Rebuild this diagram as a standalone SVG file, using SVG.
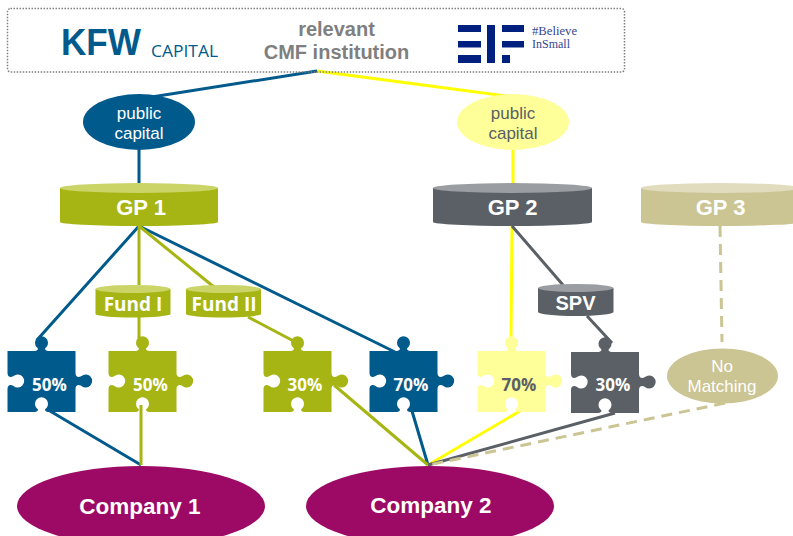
<svg xmlns="http://www.w3.org/2000/svg" width="793" height="536" viewBox="0 0 793 536">
<style>
.c{fill:none;stroke-width:3}
.blue{stroke:#005a8c}.olive{stroke:#a6b513}.yel{stroke:#ffff00}.grey{stroke:#5a6065}.dash{stroke:#cbc493;stroke-dasharray:11 7}
text{text-anchor:middle;font-family:"Liberation Sans",Arial,sans-serif}
.t{fill:#fff;font-weight:bold;font-size:22px}
.f{fill:#fff;font-weight:bold;font-size:19px;font-family:"Open Sans",sans-serif}
.p{fill:#fff;font-weight:bold;font-size:17px;font-family:"Open Sans",sans-serif}
.s{font-size:17px;fill:#fff}
.e{font-family:"Liberation Serif",serif;font-size:11.500px;fill:#33478f;text-anchor:start}
</style>
<defs>
<path id="piece" d="M0 0H26C30 0 32-2 29-4A6.500 6.500 0 1 1 39-4C36-2 38 0 42 0H68V22C68 26 71 27 74 25A6.500 6.500 0 1 1 74 35C71 33 68 34 68 38V61H42C38 61 36 59 39 57A6.500 6.500 0 1 0 29 57C32 59 30 61 26 61H0V38C0 34 3 33 6 35A6.500 6.500 0 1 0 6 25C3 27 0 26 0 22Z"/>
</defs>
<g id="connectors">
<path class="c blue" d="M317 71L139 99M139 145V186M139 226L37 340M139 226L395 352M50 411L141 465M412 411L428 465"/>
<path class="c yel" d="M317 71L513 97M513 145V186M512 226L511 340M520 411L428 465"/>
<path class="c olive" d="M139 226V285M139 226L214 287M139 317V340M141 405V465M248 317L303 346M334 385L428 465"/>
<path class="c grey" d="M512 226L563 285M587 316L612 343M615 413L428 465"/>
<path class="c dash" d="M720 226L722 342M725 403L428 465"/>
</g>
<g id="header">
<rect x="7.500" y="8.500" width="617" height="63.500" rx="3" fill="none" stroke="#7f7f7f" stroke-width="1.500" stroke-dasharray="1.500 1.500"/>
<text x="101" y="55" font-size="36" font-weight="bold" fill="#005a8c" textLength="80" lengthAdjust="spacingAndGlyphs">KFW</text>
<text x="184.500" y="57" font-size="17" fill="#005a8c" style="font-family:'Open Sans',sans-serif" textLength="67" lengthAdjust="spacingAndGlyphs">CAPITAL</text>
<text x="336.500" y="36" font-size="20" font-weight="bold" fill="#7f7f7f">relevant</text>
<text x="336.500" y="59" font-size="20" font-weight="bold" fill="#7f7f7f">CMF institution</text>
<g fill="#00207f">
<rect x="458" y="25" width="23" height="7"/><rect x="458" y="41" width="23" height="6.500"/><rect x="458" y="55" width="23" height="8"/>
<rect x="487" y="25" width="8" height="38"/>
<rect x="502" y="25" width="22" height="7"/><rect x="502" y="41" width="22" height="6.500"/><rect x="502" y="55" width="8" height="8"/>
</g>
<text class="e" x="532" y="35" textLength="45" lengthAdjust="spacingAndGlyphs">#Believe</text>
<text class="e" x="532" y="48" textLength="38" lengthAdjust="spacingAndGlyphs">InSmall</text>
</g>
<g id="public1"><ellipse cx="139" cy="122" rx="56" ry="28" fill="#005a8c"/><text class="s" x="139" y="119">public</text><text class="s" x="139" y="139">capital</text></g>
<g id="public2"><ellipse cx="513" cy="122" rx="56" ry="28" fill="#ffff99"/><text class="s" x="513" y="119" style="fill:#5a6065">public</text><text class="s" x="513" y="139" style="fill:#5a6065">capital</text></g>
<g id="gp1"><path d="M60 188V222A79 4 0 0 0 218 222V188Z" fill="#a6b513"/><ellipse cx="139" cy="188" rx="79" ry="5" fill="#cad467"/><text class="t" x="141" y="215">GP 1</text></g>
<g id="gp2"><path d="M433 188V222A79.500 4 0 0 0 592 222V188Z" fill="#5a6065"/><ellipse cx="512.500" cy="188" rx="79.500" ry="5" fill="#9a9ea2"/><text class="t" x="512.500" y="215">GP 2</text></g>
<g id="gp3"><path d="M641 188V222A79.500 4 0 0 0 800 222V188Z" fill="#cbc493"/><ellipse cx="720.500" cy="188" rx="79.500" ry="5" fill="#e0dcbd"/><text class="t" x="720.500" y="215">GP 3</text></g>
<g id="fund1"><path d="M95.500 289V314A37.500 3.500 0 0 0 170.500 314V289Z" fill="#a6b513"/><ellipse cx="133" cy="289" rx="37.500" ry="4" fill="#cad467"/><text class="f" x="133" y="311">Fund I</text></g>
<g id="fund2"><path d="M186 289V314A37.500 3.500 0 0 0 261 314V289Z" fill="#a6b513"/><ellipse cx="223.500" cy="289" rx="37.500" ry="4" fill="#cad467"/><text class="f" x="224" y="311">Fund II</text></g>
<g id="spv"><path d="M538 288V312A37.500 4 0 0 0 613.500 312V288Z" fill="#5a6065"/><ellipse cx="575.700" cy="288" rx="37.700" ry="4" fill="#9a9ea2"/><text class="f" x="575.500" y="310" style="font-family:'Liberation Sans',sans-serif;font-size:20px">SPV</text></g>
<g id="piece1"><use href="#piece" x="7.500" y="351" fill="#005a8c"/><text class="p" x="49.500" y="391">50%</text></g>
<g id="piece2"><use href="#piece" x="108.500" y="351" fill="#a6b513"/><text class="p" x="150.500" y="391">50%</text></g>
<g id="piece3"><use href="#piece" x="263.500" y="351" fill="#a6b513"/><text class="p" x="305" y="391">30%</text></g>
<g id="piece4"><use href="#piece" x="369.500" y="351" fill="#005a8c"/><text class="p" x="411" y="391">70%</text></g>
<g id="piece5"><use href="#piece" x="477.500" y="351" fill="#ffff99"/><text class="p" x="519" y="391" style="fill:#5a6065">70%</text></g>
<g id="piece6"><use href="#piece" x="571" y="352" fill="#5a6065"/><text class="p" x="613" y="391">30%</text></g>
<g id="nomatch"><ellipse cx="722.500" cy="376" rx="55.500" ry="27.500" fill="#cbc493"/><text class="s" x="722" y="372">No</text><text class="s" x="722" y="392">Matching</text></g>
<g id="company1"><ellipse cx="141" cy="506" rx="124" ry="40" fill="#9c0a66"/><text class="t" x="140" y="514" style="font-size:22.500px">Company 1</text></g>
<g id="company2"><ellipse cx="430" cy="506" rx="124" ry="40" fill="#9c0a66"/><text class="t" x="431" y="513" style="font-size:22.500px">Company 2</text></g>
</svg>
